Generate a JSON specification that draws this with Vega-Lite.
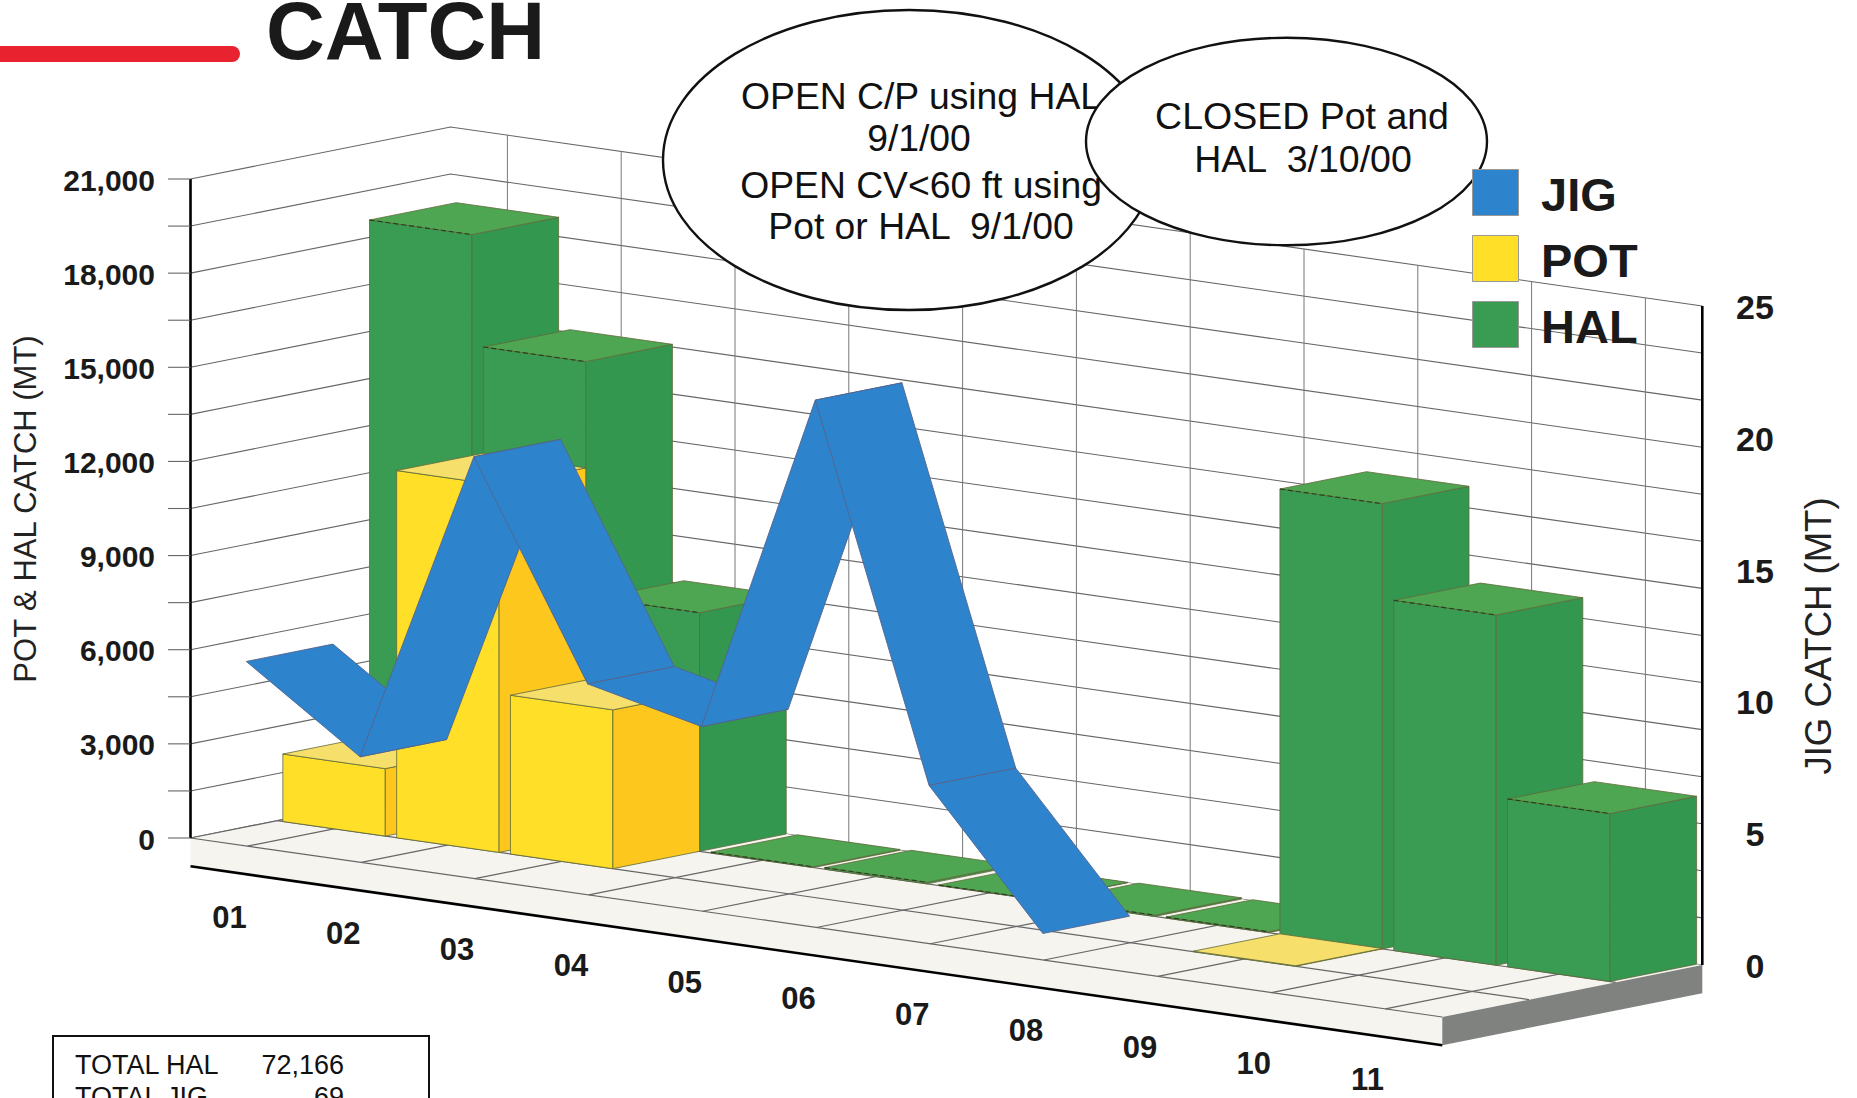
{
"$schema":"https://vega.github.io/schema/vega-lite/v6.json",
"width":1857,"height":1098,"padding":0,"autosize":{"type":"none"},"background":"#ffffff",
"config":{"view":{"stroke":null},"font":"Liberation Sans"},
"datasets":{
"catch":[
{"month":"01","series":"HAL","value":18615},{"month":"02","series":"HAL","value":15086},{"month":"03","series":"HAL","value":7604},{"month":"04","series":"HAL","value":25},{"month":"05","series":"HAL","value":50},{"month":"06","series":"HAL","value":15},{"month":"07","series":"HAL","value":40},{"month":"08","series":"HAL","value":31},{"month":"09","series":"HAL","value":14190},{"month":"10","series":"HAL","value":11160},{"month":"11","series":"HAL","value":5350},
{"month":"01","series":"POT","value":2150},{"month":"02","series":"POT","value":11700},{"month":"03","series":"POT","value":5060},{"month":"09","series":"POT","value":15}],
"jig":[{"month":"01","value":7},{"month":"02","value":4},{"month":"03","value":16},{"month":"04","value":8},{"month":"05","value":7},{"month":"06","value":20},{"month":"07","value":6},{"month":"08","value":1}],
"months":[{"month":"01"},{"month":"02"},{"month":"03"},{"month":"04"},{"month":"05"},{"month":"06"},{"month":"07"},{"month":"08"},{"month":"09"},{"month":"10"},{"month":"11"}],
"ticks":[{"v":0},{"v":1500},{"v":3000},{"v":4500},{"v":6000},{"v":7500},{"v":9000},{"v":10500},{"v":12000},{"v":13500},{"v":15000},{"v":16500},{"v":18000},{"v":19500},{"v":21000}],
"floor":[
{"key":"floor","k":0,"m":0,"d":0,"v":0},{"key":"floor","k":1,"m":11,"d":0,"v":0},{"key":"floor","k":2,"m":11,"d":1,"v":0},{"key":"floor","k":3,"m":0,"d":1,"v":0},
{"key":"slab front","k":0,"m":0,"d":0,"v":0},{"key":"slab front","k":1,"m":11,"d":0,"v":0},{"key":"slab front","k":2,"m":11,"d":0,"v":-900},{"key":"slab front","k":3,"m":0,"d":0,"v":-900},
{"key":"slab side","k":0,"m":11,"d":0,"v":0},{"key":"slab side","k":1,"m":11,"d":1,"v":0},{"key":"slab side","k":2,"m":11,"d":1,"v":-900},{"key":"slab side","k":3,"m":11,"d":0,"v":-900}],
"floorLines":[
{"id":"a","k":0,"m":0,"d":0,"v":0},{"id":"a","k":1,"m":11,"d":0,"v":0},
{"id":"b","k":0,"m":0,"d":0.3333,"v":0},{"id":"b","k":1,"m":11,"d":0.3333,"v":0},
{"id":"c","k":0,"m":0,"d":0.6667,"v":0},{"id":"c","k":1,"m":11,"d":0.6667,"v":0},
{"id":"e","k":0,"m":0,"d":0,"v":0},{"id":"e","k":1,"m":0,"d":1,"v":0}],
"axes":[
{"id":"left","k":0,"m":0,"d":0,"v":0},{"id":"left","k":1,"m":0,"d":0,"v":21000},
{"id":"right","k":0,"m":11,"d":1,"v":0},{"id":"right","k":1,"m":11,"d":1,"v":21000},
{"id":"base","k":0,"m":0,"d":0,"v":-900},{"id":"base","k":1,"m":11,"d":0,"v":-900}],
"notes":[
{"note":"OPEN C/P using HAL","cx":921,"line":109},
{"note":"9/1/00","cx":919,"line":151},
{"note":"OPEN CV<60 ft using","cx":921,"line":198},
{"note":"Pot or HAL \u00a09/1/00","cx":921,"line":239}],
"notes2":[
{"note":"CLOSED Pot and","cx":1302,"line":129},
{"note":"HAL \u00a03/10/00","cx":1303,"line":172}]
},
"encoding":{
"x":{"field":"px","type":"quantitative","scale":{"domain":[0,1857],"range":[0,1857]},"axis":null},
"y":{"field":"py","type":"quantitative","scale":{"domain":[0,1098],"range":[0,1098]},"axis":null}
},
"layer":[
{"data":{"name":"ticks"},
"transform":[{"calculate":"[0,1,2]","as":"k"},{"flatten":["k"]},
{"calculate":"datum.k<2?0:11","as":"m"},{"calculate":"datum.k<1?0:1","as":"d"},
{"calculate":"190.5+datum.m*113.8+datum.d*260","as":"px"},{"calculate":"838+datum.m*16.27-datum.d*52-datum.v*659/21000","as":"py"}],
"mark":{"type":"line","stroke":"#666666","strokeWidth":1.1},
"encoding":{"detail":{"field":"v"},"order":{"field":"k","type":"quantitative"}}},
{"data":{"name":"months"},
"transform":[{"calculate":"[0,21000]","as":"v"},{"flatten":["v"]},
{"calculate":"toNumber(datum.month)-0.5","as":"m"},
{"calculate":"190.5+datum.m*113.8+260","as":"px"},{"calculate":"838+datum.m*16.27-52-datum.v*659/21000","as":"py"}],
"mark":{"type":"line","stroke":"#777777","strokeWidth":1},
"encoding":{"detail":{"field":"month"},"order":{"field":"v","type":"quantitative"}}},
{"data":{"name":"floor"},
"transform":[{"calculate":"190.5+datum.m*113.8+datum.d*260","as":"px"},{"calculate":"838+datum.m*16.27-datum.d*52-datum.v*659/21000","as":"py"}],
"mark":{"type":"line","strokeWidth":0},
"encoding":{"fill":{"field":"key","type":"nominal","legend":{"values":["JIG","POT","HAL"],"title":null,"orient":"none","legendX":1472,"legendY":169,"padding":0,"symbolType":"square","symbolSize":2116,"symbolStrokeColor":"#999999","symbolStrokeWidth":1,"rowPadding":13,"labelOffset":22,"labelFont":"Liberation Sans","labelFontSize":47,"labelFontWeight":"bold","labelColor":"#1a1a1a","labelLimit":300,"encode":{"labels":{"update":{"dy":{"value":4.5}}}}},"scale":{"domain":["JIG","POT","HAL","POT side","POT top","HAL side","HAL top","floor","slab front","slab side"],"range":["#2d83cc","#ffdf28","#3a9b53","#fdc71e","#f7df6b","#33974f","#4ea552","#f6f4ef","#f6f4ef","#7f827e"]}},"detail":{"field":"key"},"order":{"field":"k","type":"quantitative"}}},
{"data":{"name":"floorLines"},
"transform":[{"calculate":"190.5+datum.m*113.8+datum.d*260","as":"px"},{"calculate":"838+datum.m*16.27-datum.d*52-datum.v*659/21000","as":"py"}],
"mark":{"type":"line","stroke":"#666666","strokeWidth":1.2},
"encoding":{"detail":{"field":"id"},"order":{"field":"k","type":"quantitative"}}},
{"data":{"name":"months"},
"transform":[{"calculate":"[0,1]","as":"d"},{"flatten":["d"]},
{"calculate":"toNumber(datum.month)-0.5","as":"m"},
{"calculate":"190.5+datum.m*113.8+datum.d*260","as":"px"},{"calculate":"838+datum.m*16.27-datum.d*52","as":"py"}],
"mark":{"type":"line","stroke":"#666666","strokeWidth":1.2},
"encoding":{"detail":{"field":"month"},"order":{"field":"d","type":"quantitative"}}},
{"data":{"name":"axes"},
"transform":[{"calculate":"190.5+datum.m*113.8+datum.d*260","as":"px"},{"calculate":"838+datum.m*16.27-datum.d*52-datum.v*659/21000","as":"py"}],
"mark":{"type":"line","stroke":"#000000","strokeWidth":2.6},
"encoding":{"detail":{"field":"id"},"order":{"field":"k","type":"quantitative"}}},
{"data":{"name":"ticks"},
"transform":[{"calculate":"190.5","as":"px"},{"calculate":"168","as":"px2"},{"calculate":"838-datum.v*659/21000","as":"py"}],
"mark":{"type":"rule","stroke":"#666666","strokeWidth":1.1},
"encoding":{"x2":{"field":"px2"}}},
{"data":{"name":"ticks"},
"transform":[{"filter":"datum.v%3000===0"},{"calculate":"155","as":"px"},{"calculate":"840.5-datum.v*659/21000","as":"py"}],
"mark":{"type":"text","align":"right","baseline":"middle","fontSize":30,"fontWeight":"bold","fill":"#1a1a1a"},
"encoding":{"text":{"field":"v","type":"quantitative","format":","}}},
{"data":{"values":[{"v":0},{"v":5},{"v":10},{"v":15},{"v":20},{"v":25}]},
"transform":[{"calculate":"1755","as":"px"},{"calculate":"968-datum.v*659/25","as":"py"}],
"mark":{"type":"text","align":"center","baseline":"middle","fontSize":34,"fontWeight":"bold","fill":"#1a1a1a"},
"encoding":{"text":{"field":"v","type":"quantitative"}}},
{"data":{"name":"months"},
"transform":[{"calculate":"toNumber(datum.month)-1","as":"m"},
{"calculate":"229.5+datum.m*113.8","as":"px"},{"calculate":"918.5+datum.m*16.27","as":"py"}],
"mark":{"type":"text","align":"center","baseline":"middle","fontSize":31,"fontWeight":"bold","fill":"#1a1a1a"},
"encoding":{"text":{"field":"month"}}},
{"data":{"name":"catch"},
"transform":[{"calculate":"toNumber(datum.month)-1","as":"i"},
{"calculate":"datum.series==='HAL'?2/3:1/3","as":"d0"},
{"calculate":"[0,1,2]","as":"face"},{"flatten":["face"]},
{"calculate":"[0,1,2,3,4]","as":"k"},{"flatten":["k"]},
{"calculate":"[[0,1,1,0,0],[1,1,1,1,1],[0,1,1,0,0]][datum.face][datum.k]","as":"cu"},
{"calculate":"[[0,0,0,0,0],[0,1,1,0,0],[0,0,1,1,0]][datum.face][datum.k]","as":"cw"},
{"calculate":"[[0,0,1,1,0],[0,0,1,1,0],[1,1,1,1,1]][datum.face][datum.k]","as":"ch"},
{"calculate":"datum.i+0.05+0.9*datum.cu","as":"m"},
{"calculate":"datum.d0+datum.cw/3","as":"d"},
{"calculate":"datum.value*datum.ch","as":"v"},
{"calculate":"190.5+datum.m*113.8+datum.d*260","as":"px"},{"calculate":"838+datum.m*16.27-datum.d*52-datum.v*659/21000","as":"py"},
{"calculate":"datum.series+(['',' side',' top'][datum.face])","as":"key"},
{"calculate":"datum.month+datum.series+datum.face","as":"gid"}],
"mark":{"type":"line","stroke":"#5f6a3a","strokeWidth":0.8},
"encoding":{"fill":{"field":"key","type":"nominal"},
"detail":{"field":"gid"},"order":{"field":"k","type":"quantitative"}}},
{"data":{"name":"catch"},
"transform":[{"filter":"datum.series==='HAL'"},
{"calculate":"[0,1]","as":"cu"},{"flatten":["cu"]},
{"calculate":"toNumber(datum.month)-1+0.05+0.9*datum.cu","as":"m"},
{"calculate":"190.5+datum.m*113.8+2/3*260","as":"px"},{"calculate":"838+datum.m*16.27-2/3*52-datum.value*659/21000","as":"py"}],
"mark":{"type":"line","stroke":"#24401f","strokeWidth":1.1,"strokeDash":[5,3]},
"encoding":{"detail":{"field":"month"},"order":{"field":"cu","type":"quantitative"}}},
{"data":{"name":"jig"},
"transform":[{"window":[{"op":"lead","field":"value","as":"next"}],"sort":[{"field":"month"}]},
{"filter":"datum.next!=null"},
{"calculate":"toNumber(datum.month)-1","as":"i"},
{"calculate":"[0,1,2,3,4]","as":"k"},{"flatten":["k"]},
{"calculate":"[0,1,1,0,0][datum.k]","as":"cu"},
{"calculate":"[0,0,1,1,0][datum.k]","as":"cw"},
{"calculate":"datum.i+0.49+datum.cu","as":"m"},
{"calculate":"datum.cw/3","as":"d"},
{"calculate":"(datum.cu?datum.next:datum.value)*840","as":"v"},
{"calculate":"190.5+datum.m*113.8+datum.d*260","as":"px"},{"calculate":"838+datum.m*16.27-datum.d*52-datum.v*659/21000","as":"py"},
{"calculate":"'JIG'","as":"key"}],
"mark":{"type":"line","stroke":"#54648c","strokeWidth":0.9},
"encoding":{"fill":{"field":"key","type":"nominal"},"detail":{"field":"month"},"order":{"field":"k","type":"quantitative"}}},
{"data":{"values":[{"note":"first notice"}]},
"transform":[{"calculate":"909","as":"px"},{"calculate":"160","as":"py"}],
"mark":{"type":"point","filled":true,"fill":"#ffffff","stroke":"#111111","strokeWidth":2.4,"opacity":1,"shape":"M-1,0C-1,-0.337,-0.553,-0.61,0,-0.61C0.553,-0.61,1,-0.337,1,0C1,0.337,0.553,0.61,0,0.61C-0.553,0.61,-1,0.337,-1,0Z","size":242064}},
{"data":{"name":"notes"},
"transform":[{"calculate":"datum.cx","as":"px"},{"calculate":"datum.line","as":"py"}],
"mark":{"type":"text","fontSize":37.3,"align":"center","baseline":"alphabetic","fill":"#111111"},"encoding":{"text":{"field":"note"}}},
{"data":{"values":[{"note":"second notice"}]},
"transform":[{"calculate":"1286.5","as":"px"},{"calculate":"141.5","as":"py"}],
"mark":{"type":"point","filled":true,"fill":"#ffffff","stroke":"#111111","strokeWidth":2.4,"opacity":1,"shape":"M-1,0C-1,-0.286,-0.553,-0.5175,0,-0.5175C0.553,-0.5175,1,-0.286,1,0C1,0.286,0.553,0.5175,0,0.5175C-0.553,0.5175,-1,0.286,-1,0Z","size":160801}},
{"data":{"name":"notes2"},
"transform":[{"calculate":"datum.cx","as":"px"},{"calculate":"datum.line","as":"py"}],
"mark":{"type":"text","fontSize":37.5,"align":"center","baseline":"alphabetic","fill":"#111111"},"encoding":{"text":{"field":"note"}}},
{"data":{"values":[{"note":"CATCH"}]},
"transform":[{"calculate":"266","as":"px"},{"calculate":"59","as":"py"}],
"mark":{"type":"text","fontSize":81.5,"fontWeight":"bold","align":"left","baseline":"alphabetic","fill":"#1a1a1a"},"encoding":{"text":{"field":"note"}}},
{"data":{"values":[{"note":"rule"}]},
"transform":[{"calculate":"-20","as":"px"},{"calculate":"232","as":"px2"},{"calculate":"54","as":"py"}],
"mark":{"type":"rule","stroke":"#e8222e","strokeWidth":16,"strokeCap":"round"},"encoding":{"x2":{"field":"px2"}}},
{"data":{"values":[{"note":"POT & HAL CATCH (MT)"}]},
"transform":[{"calculate":"27","as":"px"},{"calculate":"509","as":"py"}],
"mark":{"type":"text","fontSize":31,"angle":270,"align":"center","baseline":"middle","fill":"#222222"},"encoding":{"text":{"field":"note"}}},
{"data":{"values":[{"note":"JIG CATCH (MT)"}]},
"transform":[{"calculate":"1820","as":"px"},{"calculate":"636","as":"py"}],
"mark":{"type":"text","fontSize":36.5,"angle":270,"align":"center","baseline":"middle","fill":"#222222"},"encoding":{"text":{"field":"note"}}},
{"data":{"values":[{"note":"box"}]},
"transform":[{"calculate":"53","as":"px"},{"calculate":"429","as":"px2"},{"calculate":"1036","as":"py"},{"calculate":"1140","as":"py2"}],
"mark":{"type":"rect","fill":"#ffffff","stroke":"#111111","strokeWidth":2},"encoding":{"x2":{"field":"px2"},"y2":{"field":"py2"}}},
{"data":{"values":[{"note":"TOTAL HAL","row":0},{"note":"TOTAL JIG","row":1}]},
"transform":[{"calculate":"75","as":"px"},{"calculate":"1074+32*datum.row","as":"py"}],
"mark":{"type":"text","fontSize":27,"align":"left","baseline":"alphabetic","fill":"#111111"},"encoding":{"text":{"field":"note"}}},
{"data":{"values":[{"note":"72,166","row":0},{"note":"69","row":1}]},
"transform":[{"calculate":"344","as":"px"},{"calculate":"1074+32*datum.row","as":"py"}],
"mark":{"type":"text","fontSize":27,"align":"right","baseline":"alphabetic","fill":"#111111"},"encoding":{"text":{"field":"note"}}}
]
}
